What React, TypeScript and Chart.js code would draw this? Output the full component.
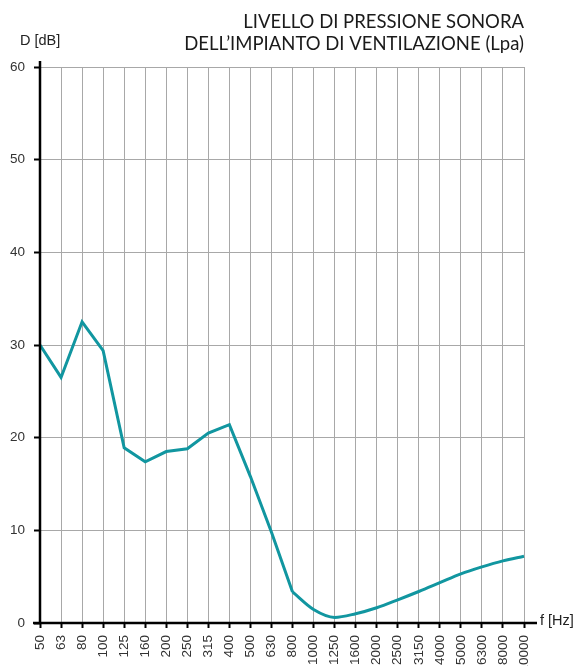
import React, { useEffect, useRef } from 'react';
import { Chart, registerables } from 'chart.js';

Chart.register(...registerables);

const freqLabels = ['50', '63', '80', '100', '125', '160', '200', '250', '315', '400', '500', '630', '800', '1000', '1250', '1600', '2000', '2500', '3150', '4000', '5000', '6300', '8000', '10000'];
const levels = [30.0, 26.5, 32.5, 29.4, 18.9, 17.4, 18.5, 18.8, 20.5, 21.4, 15.8, 9.8, 3.35, 1.45, 0.6, 1.0, 1.65, 2.5, 3.4, 4.35, 5.3, 6.05, 6.7, 7.2];
const smoothFrom = 12; // index where the curve becomes smooth
const yTicks = [0, 10, 20, 30, 40, 50, 60];
const titleLines = ['LIVELLO DI PRESSIONE SONORA', 'DELL’IMPIANTO DI VENTILAZIONE (Lpa)'];
const yAxisTitle = 'D [dB]';
const xAxisTitle = 'f [Hz]';

const LINE_COLOR = '#1196a0';

const decorPlugin = {
  id: 'decor',
  afterDraw(chart: any) {
    const { ctx, chartArea } = chart;
    const { left, right, top, bottom } = chartArea;
    ctx.save();
    ctx.strokeStyle = '#000';
    ctx.lineWidth = 2.5;
    ctx.beginPath();
    ctx.moveTo(left - 7, bottom);
    ctx.lineTo(right + 13, bottom);
    ctx.stroke();
    ctx.beginPath();
    ctx.moveTo(left, top - 6);
    ctx.lineTo(left, bottom + 1);
    ctx.stroke();

    ctx.fillStyle = '#222';
    ctx.font = '14.5px "Liberation Sans", Arial, sans-serif';
    ctx.textAlign = 'left';
    ctx.textBaseline = 'middle';
    ctx.fillText(yAxisTitle, 20, 41);
    ctx.fillText(xAxisTitle, right + 16, bottom - 2);

    ctx.fillStyle = '#1a1a1a';
    ctx.font = '18.5px Lato, "Open Sans", sans-serif';
    ctx.textAlign = 'right';
    ctx.textBaseline = 'alphabetic';
    ctx.fillText(titleLines[0], right, 28);
    ctx.fillText(titleLines[1], right, 50);
    ctx.restore();
  },
};

export default function App() {
  const canvasRef = useRef<HTMLCanvasElement | null>(null);

  useEffect(() => {
    if (!canvasRef.current) return;
    const chart = new Chart(canvasRef.current, {
      type: 'line',
      data: {
        labels: freqLabels,
        datasets: [
          {
            data: levels.map((v, i) => (i <= smoothFrom ? v : null)),
            borderColor: LINE_COLOR,
            borderWidth: 3,
            pointRadius: 0,
            tension: 0,
            fill: false,
          },
          {
            data: levels.map((v, i) => (i >= smoothFrom ? v : null)),
            borderColor: LINE_COLOR,
            borderWidth: 3,
            pointRadius: 0,
            cubicInterpolationMode: 'monotone',
            fill: false,
          },
        ],
      },
      options: {
        animation: false,
        responsive: false,
        maintainAspectRatio: false,
        layout: { padding: { left: 0, top: 67, right: 52, bottom: 0 } },
        plugins: {
          legend: { display: false },
          tooltip: { enabled: false },
          title: { display: false },
        },
        scales: {
          x: {
            type: 'category',
            offset: false,
            border: { display: false },
            grid: {
              color: '#a8a8a8',
              lineWidth: 1,
              tickLength: 5,
              tickColor: '#000',
              tickWidth: 2,
            },
            ticks: {
              autoSkip: false,
              minRotation: 90,
              maxRotation: 90,
              padding: 7,
              color: '#333',
              font: { family: '"Liberation Sans", Arial, sans-serif', size: 13.5 },
            },
            afterFit: (s: any) => {
              s.height = 43;
            },
          },
          y: {
            min: yTicks[0],
            max: yTicks[yTicks.length - 1],
            border: { display: false },
            grid: {
              color: '#a8a8a8',
              lineWidth: 1,
              tickLength: 6,
              tickColor: '#000',
              tickWidth: 2,
            },
            ticks: {
              stepSize: 10,
              padding: 9,
              color: '#333',
              font: { family: '"Liberation Sans", Arial, sans-serif', size: 13.5 },
            },
            afterFit: (s: any) => {
              s.width = 40;
            },
          },
        },
      },
      plugins: [decorPlugin],
    } as any);
    return () => chart.destroy();
  }, []);

  return (
    <div style={{ position: 'absolute', left: 0, top: 0, width: 576, height: 666, background: '#fff' }}>
      <canvas ref={canvasRef} width={576} height={666} style={{ display: 'block' }} />
    </div>
  );
}
